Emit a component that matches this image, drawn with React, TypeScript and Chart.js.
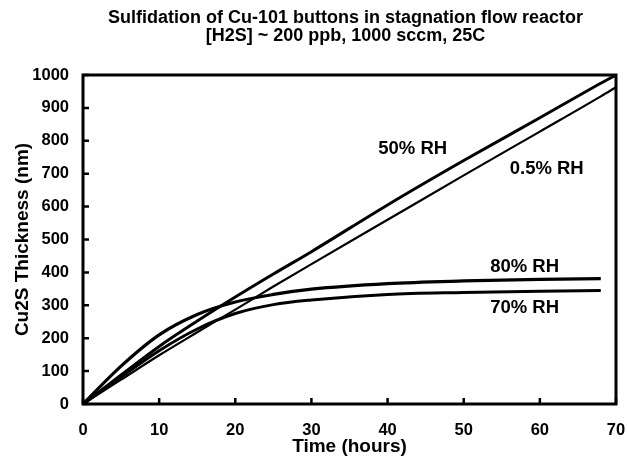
import React, { useEffect, useRef } from 'react';
import { Chart, registerables } from 'chart.js';

Chart.register(...registerables);

// ---- data ----
const timeHours = [0, 5, 10, 15, 20, 25, 30, 40, 50, 60, 68, 70];
const rh50 = [0, 88, 175, 252, 325, 395, 463, 605, 740, 870, 975, 1000];
const rh05 = [0, 74, 148, 218, 287, 357, 425, 560, 695, 828, 935, 963];
const rh80 = [0, 115, 210, 272, 310, 333, 349, 366, 374, 379, 381, null];
const rh70 = [0, 82, 162, 228, 275, 302, 316, 333, 339, 343, 345, null];

const seriesNames = ['50% RH', '0.5% RH', '80% RH', '70% RH'];
const seriesValues = [rh50, rh05, rh80, rh70];
const seriesWidths = [3, 2.2, 3.2, 3];

// curve label anchors in data units (hours, nm)
const labelTimes = [43.3, 60.9, 58.0, 58.0];
const labelValues = [775, 714, 416, 292];

const xTickValues = [0, 10, 20, 30, 40, 50, 60, 70];
const yTickValues = [0, 100, 200, 300, 400, 500, 600, 700, 800, 900, 1000];

const titleLines = [
  'Sulfidation of Cu-101 buttons in stagnation flow reactor',
  '[H2S] ~ 200 ppb, 1000 sccm, 25C',
];
const xTitle = 'Time (hours)';
const yTitle = 'Cu2S Thickness (nm)';

const FONT = '"Liberation Sans", Arial, sans-serif';

const decorPlugin = {
  id: 'decor',
  afterDatasetsDraw(chart: any) {
    const ctx = chart.ctx;
    const { left, right, top, bottom } = chart.chartArea;
    const xs = chart.scales.x;
    const ys = chart.scales.y;
    ctx.save();
    ctx.strokeStyle = '#000';
    ctx.lineWidth = 3;
    ctx.strokeRect(left, top, right - left, bottom - top);
    ctx.lineWidth = 2.5;
    ctx.beginPath();
    xTickValues.forEach((v) => {
      const px = xs.getPixelForValue(v);
      ctx.moveTo(px, bottom);
      ctx.lineTo(px, bottom - 6);
    });
    yTickValues.forEach((v) => {
      const py = ys.getPixelForValue(v);
      ctx.moveTo(left, py);
      ctx.lineTo(left + 6, py);
    });
    ctx.stroke();

    // curve labels
    ctx.fillStyle = '#000';
    ctx.font = `bold 18.5px ${FONT}`;
    ctx.textAlign = 'center';
    ctx.textBaseline = 'middle';
    seriesNames.forEach((name, i) => {
      ctx.fillText(name, xs.getPixelForValue(labelTimes[i]), ys.getPixelForValue(labelValues[i]));
    });

    // chart title
    ctx.font = `bold 18px ${FONT}`;
    const cx = (left + right) / 2 - 4;
    titleLines.forEach((line, i) => {
      ctx.fillText(line, cx, 18 + i * 18);
    });
    ctx.restore();
  },
};

export default function App() {
  const ref = useRef<HTMLCanvasElement | null>(null);

  useEffect(() => {
    document.body.style.margin = '0';
    const canvas = ref.current;
    if (!canvas) return;

    const datasets = seriesNames.map((name, i) => ({
      label: name,
      data: timeHours
        .map((t, j) => ({ x: t, y: seriesValues[i][j] }))
        .filter((p) => p.y !== null),
      borderColor: '#000',
      backgroundColor: '#000',
      borderWidth: seriesWidths[i],
      pointRadius: 0,
      fill: false,
      cubicInterpolationMode: 'monotone' as const,
    }));

    const tickFont = { family: FONT, size: 16.5, weight: 'bold' as const };
    const titleFont = { family: FONT, size: 19, weight: 'bold' as const, lineHeight: 1 };

    const chart = new Chart(canvas, {
      type: 'line',
      data: { datasets },
      options: {
        animation: false,
        responsive: false,
        devicePixelRatio: 1,
        layout: { padding: { top: 75, right: 11, bottom: 0, left: 0 } },
        plugins: {
          legend: { display: false },
          tooltip: { enabled: false },
          title: { display: false },
        },
        scales: {
          x: {
            type: 'linear',
            min: 0,
            max: 70,
            afterBuildTicks: (s: any) => {
              s.ticks = xTickValues.map((v) => ({ value: v }));
            },
            afterFit: (s: any) => {
              s.height = 52;
              s.paddingLeft = 0;
              s.paddingRight = 0;
            },
            grid: { display: false, drawTicks: false },
            border: { display: false },
            ticks: {
              color: '#000',
              font: tickFont,
              padding: 17,
              maxRotation: 0,
              autoSkip: false,
              callback: (v: any) => String(v),
            },
            title: {
              display: true,
              text: xTitle,
              color: '#000',
              font: titleFont,
              padding: { top: 0, bottom: 0 },
            },
          },
          y: {
            type: 'linear',
            min: 0,
            max: 1000,
            afterBuildTicks: (s: any) => {
              s.ticks = yTickValues.map((v) => ({ value: v }));
            },
            afterFit: (s: any) => {
              s.width = 83;
              s.paddingTop = 0;
              s.paddingBottom = 0;
            },
            grid: { display: false, drawTicks: false },
            border: { display: false },
            ticks: {
              color: '#000',
              font: tickFont,
              padding: 14,
              autoSkip: false,
              callback: (v: any) => String(v),
            },
            title: {
              display: true,
              text: yTitle,
              color: '#000',
              font: titleFont,
              padding: { top: 13, bottom: 0 },
            },
          },
        },
      },
      plugins: [decorPlugin],
    });

    return () => chart.destroy();
  }, []);

  return <canvas ref={ref} width={627} height={456} style={{ display: 'block' }} />;
}
